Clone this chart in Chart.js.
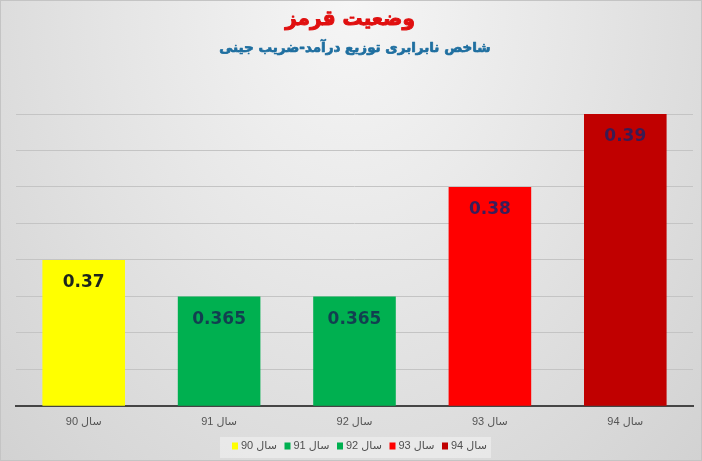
<!DOCTYPE html>
<html>
<head>
<meta charset="utf-8">
<script src="https://cdn.jsdelivr.net/npm/chart.js@4/dist/chart.umd.min.js"></script>
<style>
  html, body { margin: 0; padding: 0; }
  #wrap {
    width: 702px; height: 461px; box-sizing: border-box;
    border: 1px solid #c4c4c4;
    background: radial-gradient(ellipse at 50% 0%, #f6f6f6 0%, #e6e6e6 45%, #d2d2d2 100%);
  }
</style>
</head>
<body>
<div id="wrap"><canvas id="chart" width="700" height="459"></canvas></div>
<script>
// chart data
const categories = ['سال 90', 'سال 91', 'سال 92', 'سال 93', 'سال 94'];
const giniValues = [0.37, 0.365, 0.365, 0.38, 0.39];
const valueLabels = ['0.37', '0.365', '0.365', '0.38', '0.39'];
const barColors = ['#ffff00', '#00b050', '#00b050', '#ff0000', '#c00000'];
const labelColors = ['#1c241c', '#123f50', '#123f50', '#3a1d5a', '#3a1a52'];

const chartTitle = 'وضعیت قرمز';
const chartSubtitle = 'شاخص نابرابری توزیع درآمد-ضریب جینی';

const persianFont = "'DejaVu Sans', sans-serif";
const smallFont = "'Liberation Sans', 'DejaVu Sans', sans-serif";

// titles, drawn with a light stroke so the Persian glyphs come out heavy
const titles = {
  id: 'titles',
  afterDraw(chart) {
    const ctx = chart.ctx;
    const cx = chart.width / 2;
    ctx.save();
    ctx.textAlign = 'center';
    ctx.textBaseline = 'middle';
    ctx.lineJoin = 'round';

    ctx.font = "bold 20px " + persianFont;
    ctx.fillStyle = '#e01010';
    ctx.strokeStyle = '#e01010';
    ctx.lineWidth = 1;
    ctx.fillText(chartTitle, cx - 1, 19);
    ctx.strokeText(chartTitle, cx - 1, 19);

    ctx.font = "bold 13.5px " + persianFont;
    ctx.fillStyle = '#1f6fa0';
    ctx.strokeStyle = '#1f6fa0';
    ctx.lineWidth = 0.7;
    ctx.fillText(chartSubtitle, cx + 4, 47);
    ctx.strokeText(chartSubtitle, cx + 4, 47);
    ctx.restore();
  }
};

// legend with its light background box
const customLegend = {
  id: 'customLegend',
  afterDraw(chart) {
    const ctx = chart.ctx;
    const startX = 231, pitch = 52.5, cy = 445;
    ctx.save();
    ctx.fillStyle = 'rgba(233, 233, 233, 0.95)';
    ctx.fillRect(219, 436, 271, 21);
    ctx.font = "11px " + smallFont;
    ctx.textBaseline = 'middle';
    ctx.textAlign = 'left';
    categories.forEach((c, i) => {
      const x = startX + i * pitch;
      ctx.fillStyle = barColors[i];
      ctx.fillRect(x, cy - 3.5, 6, 7);
      ctx.fillStyle = '#505050';
      ctx.fillText(c, x + 9, cy);
    });
    ctx.restore();
  }
};

// value labels drawn inside the top of each bar
const barValueLabels = {
  id: 'barValueLabels',
  afterDatasetsDraw(chart) {
    const ctx = chart.ctx;
    const meta = chart.getDatasetMeta(0);
    ctx.save();
    ctx.font = "bold 17px 'DejaVu Sans', sans-serif";
    ctx.textAlign = 'center';
    ctx.textBaseline = 'middle';
    meta.data.forEach((bar, i) => {
      ctx.fillStyle = labelColors[i];
      ctx.fillText(valueLabels[i], bar.x, bar.y + 23);
    });
    ctx.restore();
  }
};

new Chart(document.getElementById('chart'), {
  type: 'bar',
  data: {
    labels: categories,
    datasets: [{
      label: 'ضریب جینی',
      data: giniValues,
      backgroundColor: barColors,
      borderWidth: 0,
      categoryPercentage: 0.61,
      barPercentage: 1.0
    }]
  },
  options: {
    responsive: false,
    animation: false,
    layout: { padding: { left: 15, right: 8, top: 113, bottom: 29 } },
    plugins: {
      title: { display: false },
      legend: { display: false },
      tooltip: { enabled: false }
    },
    scales: {
      x: {
        grid: { display: false },
        border: { display: true, color: '#454545', width: 2 },
        ticks: { color: '#555555', font: { family: smallFont, size: 11 }, padding: 2 }
      },
      y: {
        min: 0.35,
        max: 0.39,
        ticks: { display: false, stepSize: 0.005 },
        border: { display: false },
        grid: { color: '#c4c4c4', lineWidth: 1, drawTicks: false }
      }
    }
  },
  plugins: [titles, customLegend, barValueLabels]
});
</script>
</body>
</html>
